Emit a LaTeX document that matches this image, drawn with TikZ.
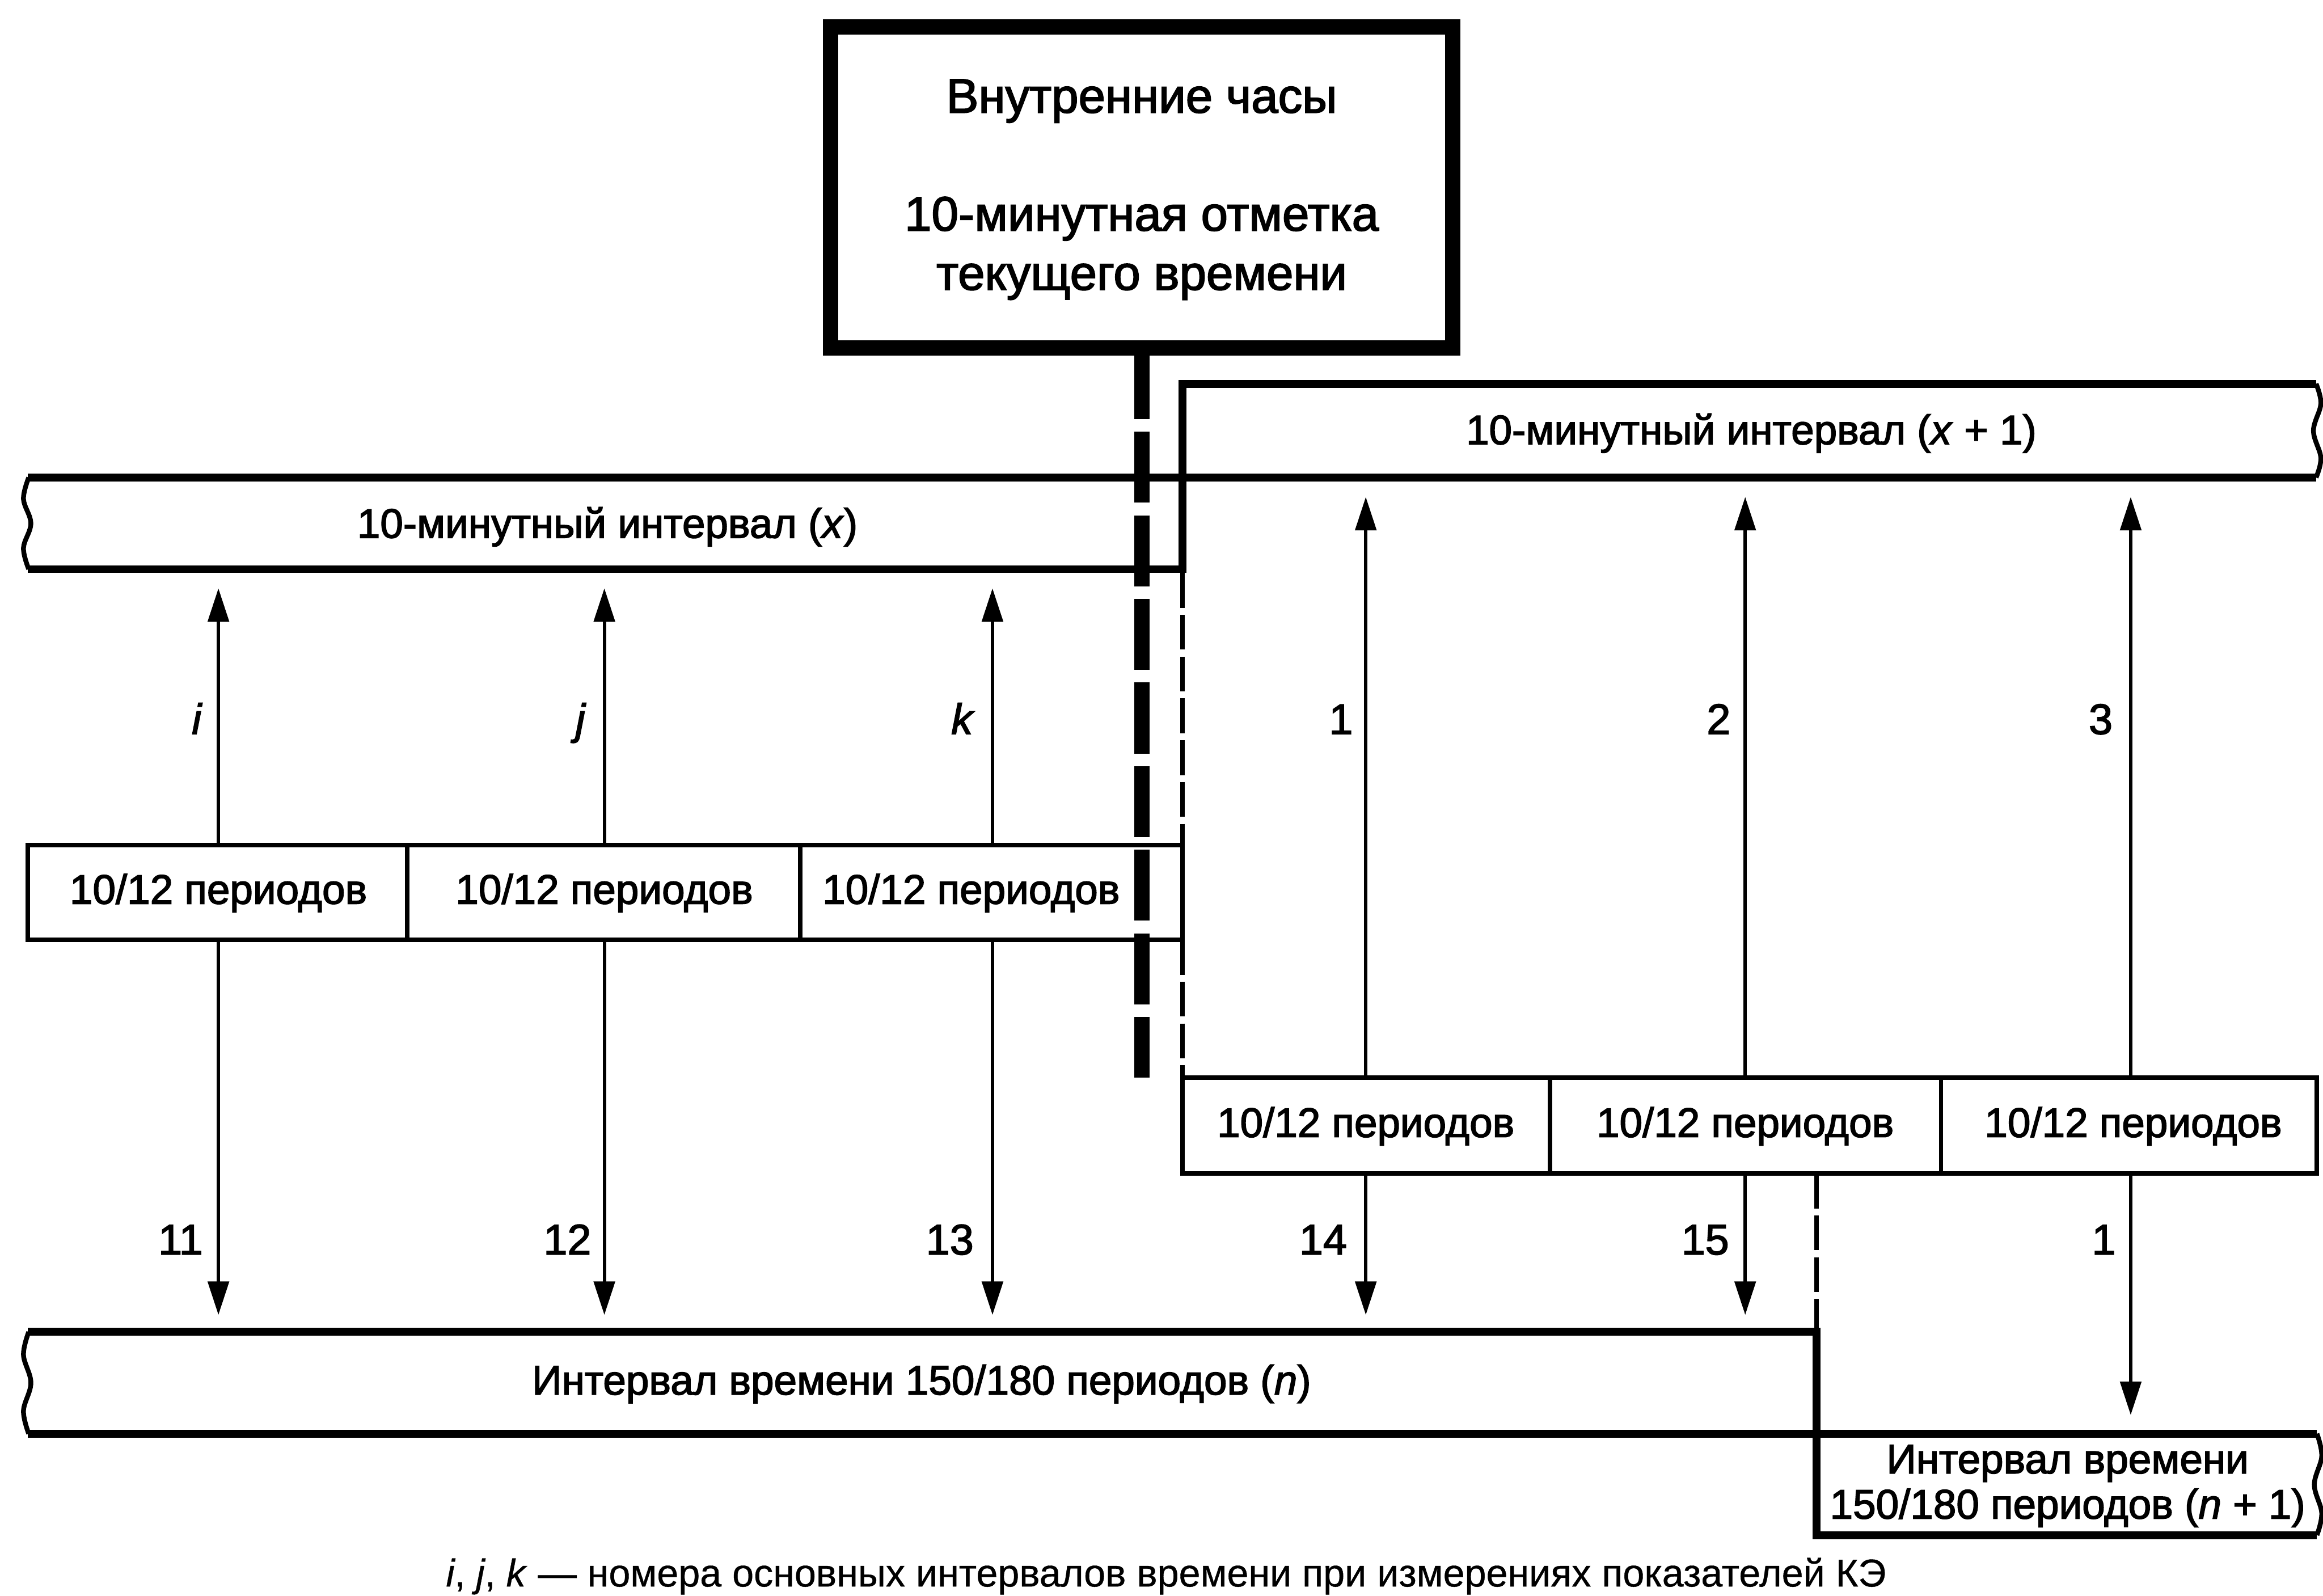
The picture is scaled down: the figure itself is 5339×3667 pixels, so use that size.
\documentclass[tikz,border=0pt]{standalone}
\usepackage{fontspec}
\setmainfont{Liberation Sans}[FakeBold=2.2]
\newfontfamily\capfont{Liberation Sans}[FakeBold=0.6]
\usetikzlibrary{arrows.meta}
\begin{document}
\begin{tikzpicture}[x=0.01cm,y=-0.01cm,
  clockbox/.style={draw,line width=0.35cm,outer sep=0pt,inner sep=0pt},
  ivline/.style={line width=0.18cm},
  waveline/.style={line width=0.11cm},
  cellline/.style={line width=0.10cm},
  arr/.style={line width=0.08cm,-{Triangle[length=0.77cm,width=0.48cm]}},
  thickdash/.style={line width=0.35cm,dash pattern=on 1.63cm off 0.29cm},
  thindash/.style={line width=0.10cm,dash pattern=on 0.80cm off 0.16cm},
  txt/.style={inner sep=0pt,anchor=base,font=\fontsize{27}{32}\selectfont},
  bigtxt/.style={inner sep=0pt,anchor=base,font=\fontsize{31.6}{38}\selectfont},
  lbl/.style={inner sep=0pt,anchor=base,font=\fontsize{28}{33}\selectfont},
  captxt/.style={inner sep=0pt,anchor=base,font=\capfont\fontsize{25.3}{30}\selectfont}]
\useasboundingbox (0,0) rectangle (5339,3667);

% clock box
\node[clockbox,minimum width=14.29cm,minimum height=7.38cm] (clock) at (2624,431) {};
\node[bigtxt] (t1) at (2624,259) {Внутренние часы};
\node[bigtxt] (t2) at (2624,530) {10-минутная отметка};
\node[bigtxt] (t3) at (2624,666) {текущего времени};
\coordinate (dashend) at (2624,2477);
\draw[thickdash] (clock.south) -- (dashend);

% 10-minute intervals
\draw[ivline] (5323,882) -- (2718,882) -- (2718,1308) -- (64,1308);
\draw[ivline] (64,1097.5) -- (5323,1097.5);
\draw[waveline] plot[smooth,tension=0.6] coordinates {(66,1097.5) (54,1147) (71,1203) (54,1259) (66,1308)};
\draw[waveline] plot[smooth,tension=0.6] coordinates {(5323,882) (5334,928) (5317,990) (5334,1052) (5323,1097.5)};
\node[txt] (ivx1) at (4025,1021) {10-минутный интервал (\textit{x} + 1)};
\node[txt] (ivx) at (1396,1236) {10-минутный интервал (\textit{x})};

% row A
\draw[cellline] (64,1942) rectangle (2718,2160);
\draw[cellline] (936,1942) -- (936,2160) (1839,1942) -- (1839,2160);
\node[txt] (pa1) at (502,2077) {10/12 периодов};
\node[txt] (pa2) at (1389,2077) {10/12 периодов};
\node[txt] (pa3) at (2232,2077) {10/12 периодов};
\coordinate (va) at (2718,1317);
\coordinate (vb) at (2718,1942);
\coordinate (vc) at (2718,2160);
\coordinate (vd) at (2718,2477);
\draw[thindash] (va) -- (vb);
\draw[thindash] (vc) -- (vd);

% row B
\draw[cellline] (2718,2477) rectangle (5325,2697);
\draw[cellline] (3562,2477) -- (3562,2697) (4461,2477) -- (4461,2697);
\node[txt] (pb1) at (3139,2613) {10/12 периодов};
\node[txt] (pb2) at (4011,2613) {10/12 периодов};
\node[txt] (pb3) at (4903,2613) {10/12 периодов};

% n intervals
\draw[ivline] (64,3061) -- (4175,3061) -- (4175,3528) -- (5325,3528);
\draw[ivline] (64,3295) -- (5325,3295);
\draw[waveline] plot[smooth,tension=0.6] coordinates {(66,3061) (54,3114) (71,3178) (54,3242) (66,3295)};
\draw[waveline] plot[smooth,tension=0.6] coordinates {(5325,3295) (5336,3347) (5319,3412) (5336,3477) (5325,3528)};
\node[txt] (ivn) at (2118,3205) {Интервал времени 150/180 периодов (\textit{n})};
\node[txt] (ivn1a) at (4752,3386) {Интервал времени};
\node[txt] (ivn1b) at (4752,3490) {150/180 периодов (\textit{n} + 1)};
\coordinate (ve) at (4175,2697);
\coordinate (vf) at (4175,3061);
\draw[thindash] (ve) -- (vf);

% arrows row A
\foreach \n/\x in {a1/502,a2/1389,a3/2281}{
  \coordinate (\n top) at (\x,1942);
  \coordinate (\n tip) at (\x,1352);
  \coordinate (\n bot) at (\x,2160);
  \coordinate (\n dn) at (\x,3022);
  \draw[arr] (\n top) -- (\n tip);
  \draw[arr] (\n bot) -- (\n dn);
}
% arrows row B
\foreach \n/\x/\d in {b1/3139/3022,b2/4011/3022,b3/4897/3252}{
  \coordinate (\n top) at (\x,2477);
  \coordinate (\n tip) at (\x,1142);
  \coordinate (\n bot) at (\x,2697);
  \coordinate (\n dn) at (\x,\d);
  \draw[arr] (\n top) -- (\n tip);
  \draw[arr] (\n bot) -- (\n dn);
}

% labels
\node[lbl] (li) at (453,1687) {\textit{i}};
\node[lbl] (lj) at (1335,1687) {\textit{j}};
\node[lbl] (lk) at (2213,1687) {\textit{k}};
\node[lbl] (l1) at (3082,1687) {1};
\node[lbl] (l2) at (3950,1687) {2};
\node[lbl] (l3) at (4828,1687) {3};
\node[lbl] (l11) at (415,2883) {11};
\node[lbl] (l12) at (1304,2883) {12};
\node[lbl] (l13) at (2183,2883) {13};
\node[lbl] (l14) at (3041,2883) {14};
\node[lbl] (l15) at (3919,2883) {15};
\node[lbl] (l1b) at (4835,2883) {1};

% caption
\node[captxt] (cap) at (2680,3646) {\textit{i}, \textit{j}, \textit{k} — номера основных интервалов времени при измерениях показателей КЭ};
\end{tikzpicture}
\end{document}
